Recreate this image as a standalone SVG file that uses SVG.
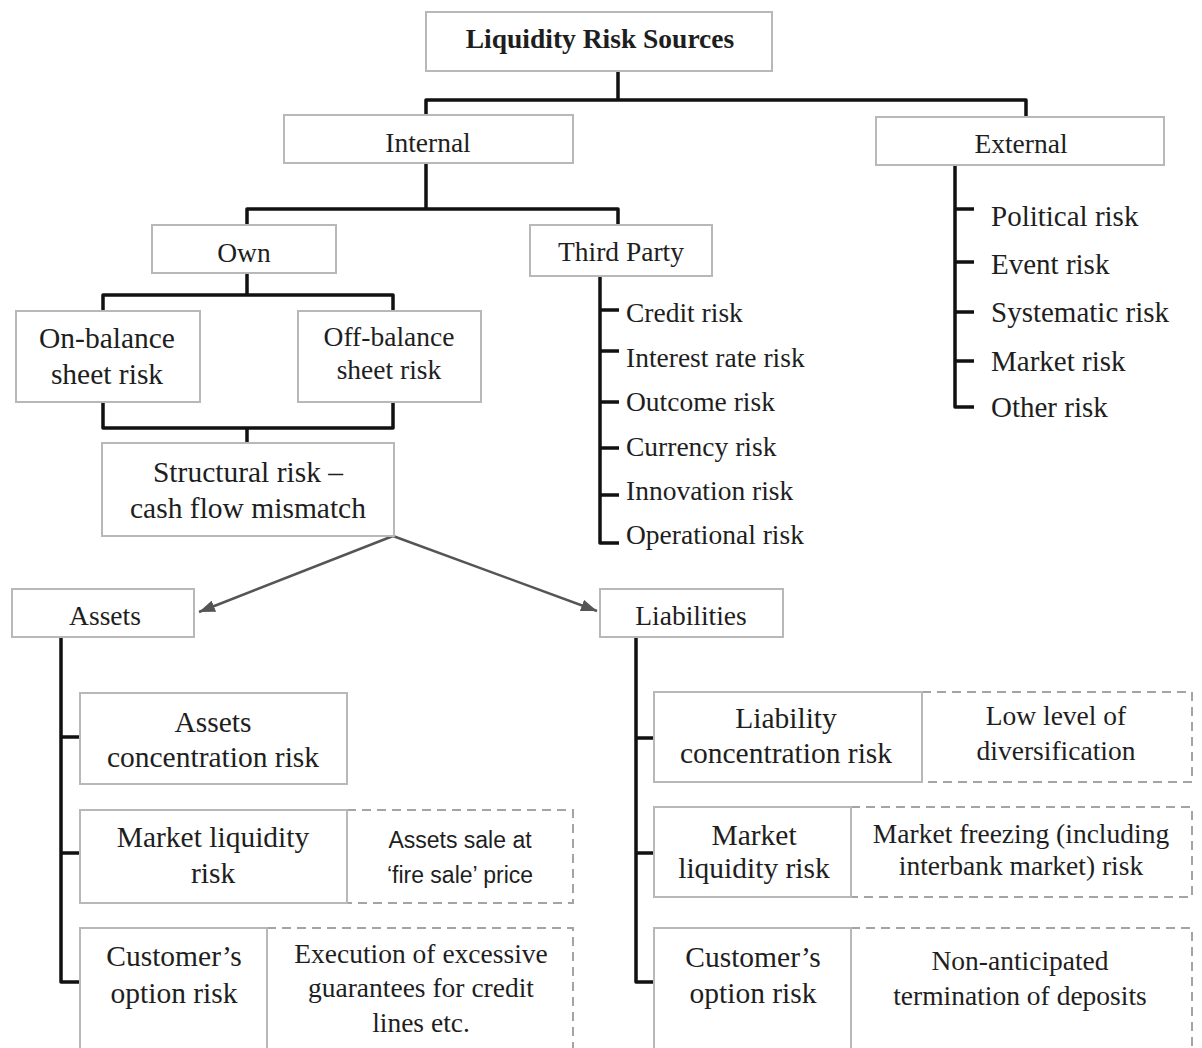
<svg xmlns="http://www.w3.org/2000/svg" width="1202" height="1048" viewBox="0 0 1202 1048">
  <style>
    .box { fill: #fff; stroke: #b8b8b8; stroke-width: 2; }
    .dash { fill: #fff; stroke: #a4a4a4; stroke-width: 2; stroke-dasharray: 9 6; }
    .t { font-family: "Liberation Serif", "Times New Roman", serif; fill: #1e1e1e; text-anchor: middle; }
    .lst { font-family: "Liberation Serif", "Times New Roman", serif; fill: #1e1e1e; text-anchor: start; }
    .s { font-family: "Liberation Sans", Arial, sans-serif; fill: #1e1e1e; text-anchor: middle; }
    .hd { font-size: 27.5px; }
    .rk { font-size: 29.5px; }
    .nt { font-size: 27.5px; }
    .conn { fill: none; stroke: #111; stroke-width: 3.5; stroke-linejoin: round; }
    .arr { fill: none; stroke: #555; stroke-width: 2.5; }
  </style>
  <defs>
    <marker id="ah" viewBox="0 0 16 12" refX="16" refY="6" markerWidth="16" markerHeight="12" markerUnits="userSpaceOnUse" orient="auto">
      <path d="M0,0 L16,6 L0,12 z" fill="#555"/>
    </marker>
  </defs>

  <rect width="1202" height="1048" fill="#fff"/>

  <!-- connectors -->
  <g id="connectors">
    <path class="conn" d="M426,115 V100 H1026 V117 M618,71 V100"/>
    <path class="conn" d="M247,225 V209 H618 V225 M426,163 V209"/>
    <path class="conn" d="M103,311 V295 H393 V311 M247,273 V295"/>
    <path class="conn" d="M103,402 V428 H393 V402 M247,428 V443"/>
    <!-- third party list -->
    <path class="conn" d="M600,276 V543 H619 M600,310 H619 M600,351 H619 M600,402 H619 M600,448 H619 M600,495 H619"/>
    <!-- external list -->
    <path class="conn" d="M955,165 V407 H974 M955,209 H974 M955,262 H974 M955,312 H974 M955,361 H974"/>
    <!-- assets and liabilities branches -->
    <path class="conn" d="M61,637 V982 H80 M61,737 H80 M61,853 H80"/>
    <path class="conn" d="M636,637 V982 H654 M636,738 H654 M636,853 H654"/>
    <line class="arr" x1="393" y1="536" x2="199" y2="612" marker-end="url(#ah)"/>
    <line class="arr" x1="393" y1="536" x2="597" y2="611" marker-end="url(#ah)"/>
  </g>

  <g id="title">
    <rect class="box" x="426" y="12" width="346" height="59"/>
    <text class="t" x="600" y="48" font-size="27.5" font-weight="bold">Liquidity Risk Sources</text>
  </g>
  <g id="internal">
    <rect class="box" x="284" y="115" width="289" height="48"/>
    <text class="t hd" x="428" y="152">Internal</text>
  </g>
  <g id="external">
    <rect class="box" x="876" y="117" width="288" height="48"/>
    <text class="t hd" x="1021" y="153">External</text>
  </g>
  <g id="external-list" class="lst" font-size="29">
    <text x="991" y="226">Political risk</text>
    <text x="991" y="274">Event risk</text>
    <text x="991" y="322">Systematic risk</text>
    <text x="991" y="371">Market risk</text>
    <text x="991" y="417">Other risk</text>
  </g>
  <g id="own">
    <rect class="box" x="152" y="225" width="184" height="48"/>
    <text class="t hd" x="244" y="262">Own</text>
  </g>
  <g id="third-party">
    <rect class="box" x="530" y="225" width="182" height="51"/>
    <text class="t hd" x="621" y="261">Third Party</text>
  </g>
  <g id="third-party-list" class="lst" font-size="27.5">
    <text x="626" y="322">Credit risk</text>
    <text x="626" y="367">Interest rate risk</text>
    <text x="626" y="411">Outcome risk</text>
    <text x="626" y="456">Currency risk</text>
    <text x="626" y="500">Innovation risk</text>
    <text x="626" y="544">Operational risk</text>
  </g>
  <g id="on-balance">
    <rect class="box" x="16" y="311" width="184" height="91"/>
    <text class="t rk" x="107" y="348">On-balance</text>
    <text class="t rk" x="107" y="384">sheet risk</text>
  </g>
  <g id="off-balance">
    <rect class="box" x="298" y="311" width="183" height="91"/>
    <text class="t nt" x="389" y="346">Off-balance</text>
    <text class="t nt" x="389" y="379">sheet risk</text>
  </g>
  <g id="structural">
    <rect class="box" x="102" y="443" width="292" height="93"/>
    <text class="t rk" x="248" y="482">Structural risk –</text>
    <text class="t rk" x="248" y="518">cash flow mismatch</text>
  </g>
  <g id="assets">
    <rect class="box" x="12" y="589" width="182" height="48"/>
    <text class="t hd" x="105" y="625">Assets</text>
  </g>
  <g id="liabilities">
    <rect class="box" x="600" y="589" width="183" height="48"/>
    <text class="t hd" x="691" y="625">Liabilities</text>
  </g>

  <g id="assets-concentration">
    <rect class="box" x="80" y="693" width="267" height="91"/>
    <text class="t rk" x="213" y="732">Assets</text>
    <text class="t rk" x="213" y="767">concentration risk</text>
  </g>
  <g id="assets-market-liquidity">
    <rect class="dash" x="347" y="810" width="226" height="93"/>
    <rect class="box" x="80" y="810" width="267" height="93"/>
    <text class="t rk" x="213" y="847">Market liquidity</text>
    <text class="t rk" x="213" y="883">risk</text>
    <text class="s" font-size="23" x="460" y="848">Assets sale at</text>
    <text class="s" font-size="23" x="460" y="883">‘fire sale’ price</text>
  </g>
  <g id="assets-customer-option">
    <rect class="dash" x="267" y="928" width="306" height="132"/>
    <rect class="box" x="80" y="928" width="187" height="132"/>
    <text class="t rk" x="174" y="966">Customer’s</text>
    <text class="t rk" x="174" y="1003">option risk</text>
    <text class="t nt" x="421" y="963">Execution of excessive</text>
    <text class="t nt" x="421" y="997">guarantees for credit</text>
    <text class="t nt" x="421" y="1032">lines etc.</text>
  </g>

  <g id="liability-concentration">
    <rect class="dash" x="922" y="692" width="270" height="90"/>
    <rect class="box" x="654" y="692" width="268" height="90"/>
    <text class="t rk" x="786" y="728">Liability</text>
    <text class="t rk" x="786" y="763">concentration risk</text>
    <text class="t nt" x="1056" y="725">Low level of</text>
    <text class="t nt" x="1056" y="760">diversification</text>
  </g>
  <g id="liabilities-market-liquidity">
    <rect class="dash" x="851" y="807" width="341" height="90"/>
    <rect class="box" x="654" y="807" width="197" height="90"/>
    <text class="t rk" x="754" y="845">Market</text>
    <text class="t rk" x="754" y="878">liquidity risk</text>
    <text class="t nt" x="1021" y="843">Market freezing (including</text>
    <text class="t nt" x="1021" y="875">interbank market) risk</text>
  </g>
  <g id="liabilities-customer-option">
    <rect class="dash" x="851" y="928" width="341" height="132"/>
    <rect class="box" x="654" y="928" width="197" height="132"/>
    <text class="t rk" x="753" y="967">Customer’s</text>
    <text class="t rk" x="753" y="1003">option risk</text>
    <text class="t nt" x="1020" y="970">Non-anticipated</text>
    <text class="t nt" x="1020" y="1005">termination of deposits</text>
  </g>
</svg>
